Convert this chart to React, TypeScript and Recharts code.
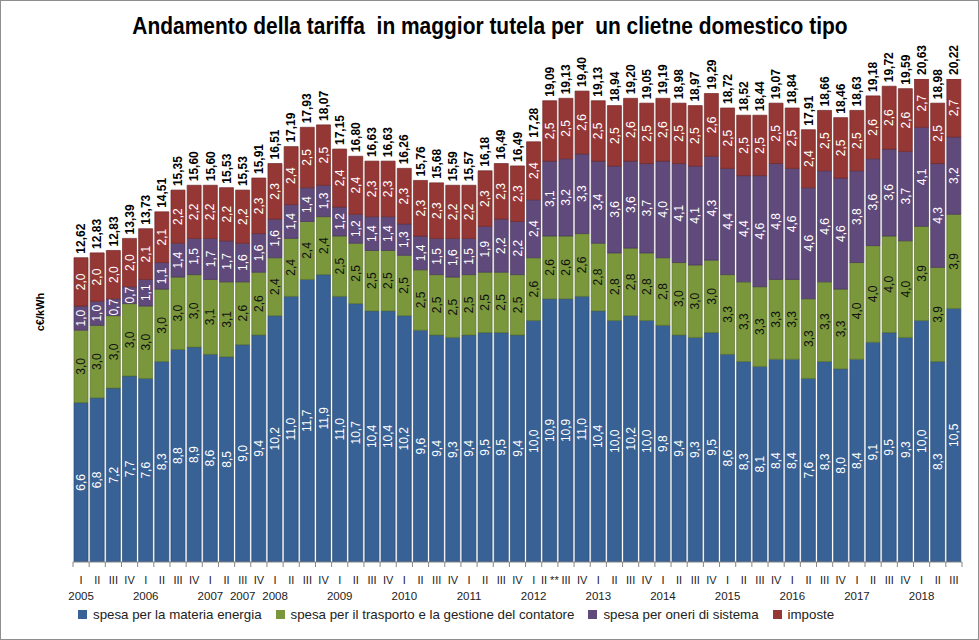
import { BarChart, Bar, XAxis, YAxis, Legend, LabelList } from 'recharts';

// trimestri sull'asse x (55 barre, 2005 I - 2018 III)
const trimestri = [
  'I', 'II', 'III', 'IV', 'I', 'II', 'III', 'IV', 'I', 'II', 'III', 'IV',
  'I', 'II', 'III', 'IV', 'I', 'II', 'III', 'IV', 'I', 'II', 'III', 'IV',
  'I', 'II', 'III', 'IV', 'I', 'II **', 'III', 'IV', 'I', 'II', 'III', 'IV',
  'I', 'II', 'III', 'IV', 'I', 'II', 'III', 'IV', 'I', 'II', 'III', 'IV',
  'I', 'II', 'III', 'IV', 'I', 'II', 'III',
];

const anni = [
  '2005', '', '', '', '2006', '', '', '', '2007', '', '2007', '',
  '2008', '', '', '', '2009', '', '', '', '2010', '', '', '',
  '2011', '', '', '', '2012', '', '', '', '2013', '', '', '',
  '2014', '', '', '', '2015', '', '', '', '2016', '', '', '',
  '2017', '', '', '', '2018', '', '',
];

const energia = [
  6.6, 6.8, 7.2, 7.7, 7.6, 8.3, 8.8, 8.9, 8.6, 8.5,
  9.0, 9.4, 10.2, 11.0, 11.7, 11.9, 11.0, 10.7, 10.4, 10.4,
  10.2, 9.6, 9.4, 9.3, 9.4, 9.5, 9.5, 9.4, 10.0, 10.9,
  10.9, 11.0, 10.4, 10.0, 10.2, 10.0, 9.8, 9.4, 9.3, 9.5,
  8.6, 8.3, 8.1, 8.4, 8.4, 7.6, 8.3, 8.0, 8.4, 9.1,
  9.5, 9.3, 10.0, 8.3, 10.5,
];

const trasporto = [
  3.0, 3.0, 3.0, 3.0, 3.0, 3.0, 3.0, 3.0, 3.1, 3.1,
  2.6, 2.6, 2.4, 2.4, 2.4, 2.4, 2.5, 2.5, 2.5, 2.5,
  2.5, 2.5, 2.5, 2.5, 2.5, 2.5, 2.5, 2.5, 2.6, 2.6,
  2.6, 2.6, 2.8, 2.8, 2.8, 2.8, 2.8, 3.0, 3.0, 3.0,
  3.3, 3.3, 3.3, 3.3, 3.3, 3.3, 3.3, 3.3, 4.0, 4.0,
  4.0, 4.0, 3.9, 3.9, 3.9,
];

const oneri = [
  1.0, 1.0, 0.7, 0.7, 1.1, 1.1, 1.4, 1.5, 1.7, 1.7,
  1.6, 1.6, 1.6, 1.4, 1.4, 1.3, 1.2, 1.2, 1.4, 1.4,
  1.3, 1.4, 1.5, 1.6, 1.5, 1.9, 2.2, 2.2, 2.4, 3.1,
  3.2, 3.3, 3.4, 3.6, 3.6, 3.7, 4.0, 4.1, 4.1, 4.3,
  4.4, 4.4, 4.6, 4.8, 4.6, 4.6, 4.6, 4.6, 3.8, 3.6,
  3.6, 3.7, 4.1, 4.3, 3.2,
];

const imposte = [
  2.0, 2.0, 2.0, 2.0, 2.1, 2.1, 2.2, 2.2, 2.2, 2.2,
  2.2, 2.3, 2.3, 2.4, 2.5, 2.5, 2.4, 2.4, 2.3, 2.3,
  2.3, 2.3, 2.3, 2.2, 2.2, 2.3, 2.3, 2.3, 2.4, 2.5,
  2.5, 2.6, 2.5, 2.5, 2.6, 2.5, 2.6, 2.5, 2.5, 2.6,
  2.5, 2.5, 2.5, 2.5, 2.5, 2.4, 2.5, 2.5, 2.5, 2.6,
  2.6, 2.6, 2.7, 2.5, 2.7,
];

const totali = [
  12.62, 12.83, 12.83, 13.39, 13.73, 14.51, 15.35, 15.6, 15.6, 15.53,
  15.53, 15.91, 16.51, 17.19, 17.93, 18.07, 17.15, 16.8, 16.63, 16.63,
  16.26, 15.76, 15.68, 15.59, 15.57, 16.18, 16.49, 16.49, 17.28, 19.09,
  19.13, 19.4, 19.13, 18.94, 19.2, 19.05, 19.19, 18.98, 18.97, 19.29,
  18.72, 18.52, 18.44, 19.07, 18.84, 17.91, 18.66, 18.46, 18.63, 19.18,
  19.72, 19.59, 20.63, 18.98, 20.22,
];

const serie = [
  { key: 'energia', name: 'spesa per la materia energia', fill: '#386195', stroke: '#2a4a73', text: '#ffffff' },
  { key: 'trasporto', name: 'spesa per il trasporto e la gestione del contatore', fill: '#7a973c', stroke: '#5d742c', text: '#111111' },
  { key: 'oneri', name: 'spesa per oneri di sistema', fill: '#604a7b', stroke: '#48375d', text: '#ffffff' },
  { key: 'imposte', name: 'imposte', fill: '#953735', stroke: '#722a28', text: '#ffffff' },
];

const data = trimestri.map((q, i) => ({
  q,
  energia: energia[i],
  trasporto: trasporto[i],
  oneri: oneri[i],
  imposte: imposte[i],
  totale: totali[i],
}));

const FONT = '"Liberation Sans", Arial, sans-serif';
const W = 979;
const H = 640;
const PLOT_LEFT = 73;
const PLOT_RIGHT = 17;
const PLOT_TOP = 79;
const BAND = (W - PLOT_LEFT - PLOT_RIGHT) / trimestri.length;

const fmt1 = (v: number) => v.toFixed(1).replace('.', ',');
const fmt2 = (v: number) => v.toFixed(2).replace('.', ',');

function segmentLabel(color: string) {
  return (props: any) => {
    const { x, y, width, height, value } = props;
    if (value == null) return null;
    const cx = Number(x) + Number(width) / 2;
    const cy = Number(y) + Number(height) / 2;
    return (
      <text
        x={cx}
        y={cy}
        dy="0.35em"
        textAnchor="middle"
        transform={`rotate(-90, ${cx}, ${cy})`}
        fill={color}
        fontSize={12}
        fontFamily={FONT}
      >
        {fmt1(Number(value))}
      </text>
    );
  };
}

const TotalLabel = (props: any) => {
  const { x, y, width, value } = props;
  const cx = Number(x) + Number(width) / 2;
  // le barre oltre il massimo dell'asse restano tagliate in alto
  const ty = Math.max(Number(y), PLOT_TOP) - 4;
  return (
    <text
      x={cx}
      y={ty}
      dy="0.35em"
      textAnchor="start"
      transform={`rotate(-90, ${cx}, ${ty})`}
      fill="#000"
      fontSize={12}
      fontWeight="bold"
      fontFamily={FONT}
    >
      {fmt2(Number(value))}
    </text>
  );
};

const QuarterTick = (props: any) => {
  const { x, y, payload } = props;
  const i = payload.index;
  const half = BAND / 2;
  return (
    <g>
      <line x1={x - half} x2={x - half} y1={y} y2={y + 5} stroke="#868686" />
      {i === trimestri.length - 1 && (
        <line x1={x + half} x2={x + half} y1={y} y2={y + 5} stroke="#868686" />
      )}
      <text x={x} y={y + 22} textAnchor="middle" fontSize={11} fontFamily={FONT} fill="#222">
        {payload.value}
      </text>
      {anni[i] && (
        <text x={x} y={y + 38} textAnchor="middle" fontSize={11.5} fontFamily={FONT} fill="#222">
          {anni[i]}
        </text>
      )}
    </g>
  );
};

const renderLegend = (props: any) => {
  const items = [...(props.payload || [])].sort(
    (a: any, b: any) =>
      serie.findIndex((s) => s.name === a.value) - serie.findIndex((s) => s.name === b.value)
  );
  return (
    <div
      style={{
        display: 'flex',
        alignItems: 'center',
        height: 20,
        whiteSpace: 'nowrap',
        fontFamily: FONT,
        fontSize: 13.3,
        color: '#222',
      }}
    >
      {items.map((e: any) => (
        <span key={e.value} style={{ display: 'flex', alignItems: 'center', marginRight: 14 }}>
          <span style={{ width: 9, height: 9, background: e.color, marginRight: 6 }} />
          {e.value}
        </span>
      ))}
    </div>
  );
};

const YLabel = () => (
  <text
    x={40}
    y={312}
    dy="0.35em"
    textAnchor="middle"
    transform="rotate(-90, 40, 312)"
    fontSize={11}
    fontWeight="bold"
    fontFamily={FONT}
    fill="#000"
  >
    c€/kWh
  </text>
);

export default function App() {
  return (
    <div
      style={{
        position: 'absolute',
        left: 0,
        top: 0,
        width: W,
        height: H,
        background: '#fff',
        outline: '1px solid #8e8e8e',
        outlineOffset: -1,
      }}
    >
      <div
        style={{
          position: 'absolute',
          top: 13,
          left: 0,
          width: W,
          textAlign: 'center',
        }}
      >
        <span
          style={{
            display: 'inline-block',
            whiteSpace: 'pre',
            fontFamily: FONT,
            fontWeight: 'bold',
            fontSize: 23,
            color: '#000',
            transform: 'scaleX(0.91)',
          }}
        >
          Andamento della tariffa  in maggior tutela per  un clietne domestico tipo
        </span>
      </div>
      <BarChart
        width={W}
        height={H}
        data={data}
        margin={{ top: PLOT_TOP, right: PLOT_RIGHT, left: 0, bottom: 16 }}
      >
        <XAxis
          dataKey="q"
          interval={0}
          height={42}
          tickLine={false}
          tickSize={0}
          tickMargin={0}
          stroke="#868686"
          tick={QuarterTick}
        />
        <YAxis
          width={PLOT_LEFT}
          domain={[0, 20]}
          allowDataOverflow
          axisLine={false}
          tickLine={false}
          tick={false}
          label={YLabel}
        />
        <Legend
          verticalAlign="bottom"
          content={renderLegend}
          wrapperStyle={{ left: 78, top: 604, bottom: 'auto', width: 'auto' }}
        />
        {serie.map((s) => (
          <Bar
            key={s.key}
            dataKey={s.key}
            name={s.name}
            stackId="s"
            fill={s.fill}
            stroke={s.stroke}
            strokeWidth={0.7}
            barSize={14}
            isAnimationActive={false}
          >
            <LabelList dataKey={s.key} content={segmentLabel(s.text)} />
            {s.key === 'imposte' && <LabelList dataKey="totale" content={TotalLabel} />}
          </Bar>
        ))}
      </BarChart>
    </div>
  );
}
